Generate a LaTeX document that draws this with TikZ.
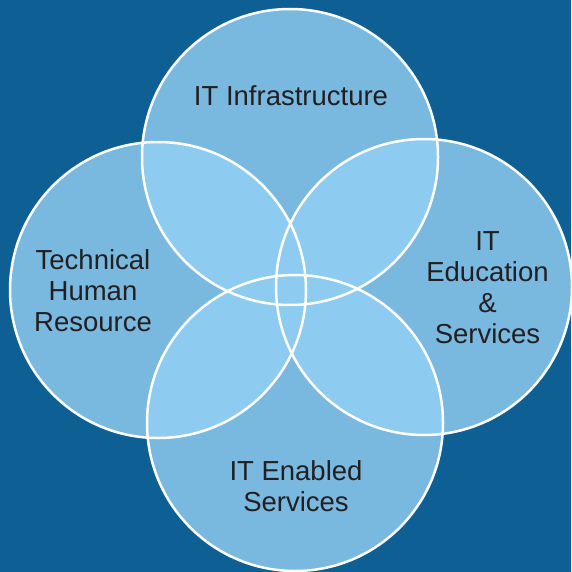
\documentclass[tikz,border=0pt]{standalone}
\usepackage{fontspec}
\setmainfont{Liberation Sans}
\definecolor{bgblue}{RGB}{14,95,148}
\definecolor{basefill}{RGB}{122,185,223}
\definecolor{overfill}{RGB}{142,203,240}
\definecolor{txt}{RGB}{35,31,32}
\begin{document}
\begin{tikzpicture}[x=1pt,y=-1pt,
  lbl/.style={text=txt,font=\fontsize{27.5}{31}\selectfont,align=center,inner sep=0pt},
  ring/.style={draw=white,line width=2.5pt}]
\fill[bgblue] (0,0) rectangle (571,572);
\useasboundingbox (0,0) rectangle (571,572);
\def\R{148}
\coordinate (T) at (290,157);
\coordinate (L) at (158,290);
\coordinate (Rt) at (424,287);
\coordinate (B) at (295,423);
\foreach \c in {T,L,Rt,B} \fill[basefill] (\c) circle (\R);
\foreach \a/\b in {T/L,T/Rt,T/B,L/Rt,L/B,Rt/B}{
  \begin{scope}
    \clip (\a) circle (\R);
    \fill[overfill] (\b) circle (\R);
  \end{scope}
}
\foreach \c in {T,L,Rt,B} \draw[ring] (\c) circle (\R);
\node[lbl] (infra) at (291,96) {IT Infrastructure};
\node[lbl] (thr) at (93,291) {Technical\\Human\\Resource};
\node[lbl] (edu) at (487.5,288) {IT\\Education\\\&\\Services};
\node[lbl] (ites) at (296,486) {IT Enabled\\Services};
\end{tikzpicture}
\end{document}
